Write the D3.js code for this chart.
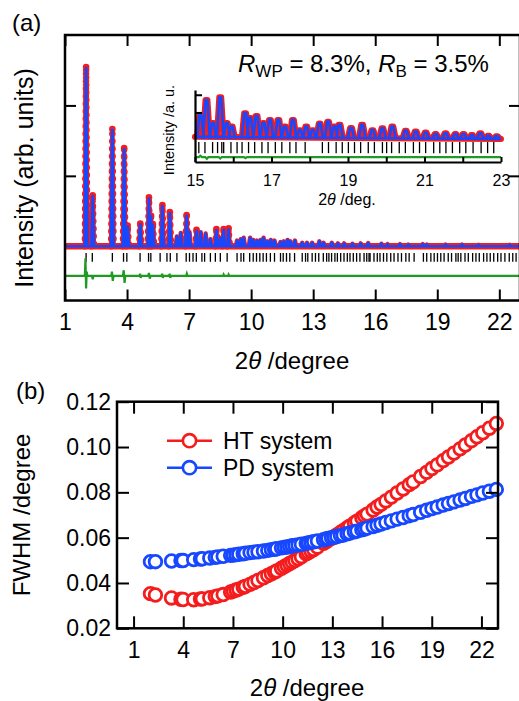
<!DOCTYPE html>
<html>
<head>
<meta charset="utf-8">
<script src="https://cdn.jsdelivr.net/npm/d3@7"></script>
<style>
    body { margin: 0; background: #fff; }
    text { font-family: "Liberation Sans", Arial, sans-serif; fill: #000; }
</style>
</head>
<body>
<svg id="chart"></svg>
<script>
// ---- panel (a): refined pattern, peak positions (2theta) and heights (arb. units)
const mainPeak2theta = [2.02, 2.34, 3.29, 3.86, 4.03, 4.64, 5.06, 5.16, 5.25, 5.71, 6.07, 6.41, 6.60, 6.88, 7.02,
    7.36, 7.56, 7.80, 8.03, 8.32, 8.52, 8.67, 8.91, 9.32, 9.50, 9.64, 9.95, 10.10, 10.28, 10.45, 10.60, 10.78,
    10.95, 11.13, 11.42, 11.58, 11.76, 11.90, 12.12, 12.47, 12.70, 12.95, 13.30, 13.50, 13.90, 14.20, 14.50,
    14.90, 15.30, 15.66, 16.30, 16.60, 17.20, 17.60, 18.30, 18.50, 19.40, 20.20, 21.00, 22.50];
const mainPeakHeight = [2.53, 0.71, 1.65, 1.38, 0.28, 0.31, 0.68, 0.42, 0.30, 0.57, 0.47, 0.14, 0.19, 0.43, 0.20,
    0.22, 0.20, 0.18, 0.10, 0.23, 0.12, 0.23, 0.24, 0.08, 0.10, 0.12, 0.12, 0.09, 0.08, 0.09, 0.12, 0.07,
    0.09, 0.08, 0.06, 0.07, 0.09, 0.07, 0.08, 0.05, 0.05, 0.05, 0.07, 0.05, 0.05, 0.04, 0.04,
    0.035, 0.04, 0.045, 0.035, 0.03, 0.03, 0.025, 0.03, 0.025, 0.025, 0.025, 0.02, 0.02];

// Bragg reflection positions
const bragg2theta = [2.02, 2.32, 3.29, 3.83, 3.99, 4.63, 5.04, 5.15, 5.60, 5.93, 6.09, 6.41, 6.86, 7.02, 7.19,
    7.35, 7.62, 7.75, 8.03, 8.27, 8.51, 8.84, 9.32, 9.51, 9.64, 9.93, 10.10, 10.26, 10.42, 10.58, 10.74, 10.93,
    11.13, 11.42, 11.55, 11.71, 11.87, 12.10, 12.47, 12.63, 12.74, 12.95, 13.11, 13.27, 13.49, 13.65, 13.76,
    13.89, 14.05, 14.17, 14.33, 14.49, 14.65, 14.78, 14.94, 15.10, 15.26, 15.46, 15.59, 15.70, 15.75, 15.94,
    16.10, 16.23, 16.40, 16.56, 16.75, 16.91, 17.10, 17.27, 17.48, 17.64, 17.88, 18.33, 18.49, 18.69, 18.85,
    19.01, 19.17, 19.33, 19.53, 19.69, 19.90, 20.01, 20.14, 20.34, 20.50, 20.71, 20.87, 21.03, 21.24, 21.40,
    21.56, 21.73, 21.92, 22.08, 22.27, 22.48, 22.65, 22.81];

// difference curve (obs - calc), offset below the pattern
const diff2theta = [1.0, 1.96, 1.99, 2.02, 2.05, 2.08, 2.30, 2.34, 2.38, 3.24, 3.27, 3.31, 3.35, 3.80, 3.84,
    3.88, 3.92, 4.60, 4.63, 4.66, 4.69, 5.02, 5.06, 5.10, 5.14, 5.67, 5.70, 5.73, 5.76, 6.03, 6.06, 6.09, 6.12,
    6.86, 6.89, 6.92, 8.64, 8.67, 8.70, 8.88, 8.91, 8.94, 23.0];
const diffValue = [-0.42, -0.42, -0.17, -0.60, -0.36, -0.42, -0.42, -0.47, -0.42, -0.42, -0.36, -0.49, -0.42,
    -0.42, -0.34, -0.52, -0.42, -0.42, -0.39, -0.45, -0.42, -0.42, -0.38, -0.46, -0.42, -0.42, -0.39, -0.45,
    -0.42, -0.42, -0.39, -0.45, -0.42, -0.42, -0.39, -0.42, -0.42, -0.40, -0.42, -0.42, -0.40, -0.42, -0.42];

const mainXTicks = [1, 4, 7, 10, 13, 16, 19, 22];
const mainYTicks = [1, 2];

// ---- inset (15-23 deg)
const inset2theta = [15.14, 15.30, 15.47, 15.66, 15.83, 15.96, 16.31, 16.44, 16.61, 16.79, 16.96, 17.18, 17.35,
    17.56, 17.74, 17.91, 18.08, 18.26, 18.48, 18.65, 18.78, 19.08, 19.37, 19.64, 19.90, 20.16, 20.51, 20.77,
    21.03, 21.29, 21.55, 21.81, 22.02, 22.24, 22.46, 22.67, 22.89];
const insetHeight = [0.68, 1.10, 0.45, 1.18, 0.45, 0.35, 0.73, 0.59, 0.65, 0.45, 0.54, 0.54, 0.35, 0.54, 0.25,
    0.35, 0.25, 0.44, 0.49, 0.35, 0.40, 0.31, 0.40, 0.25, 0.30, 0.35, 0.23, 0.21, 0.18, 0.14, 0.16, 0.14,
    0.14, 0.11, 0.16, 0.09, 0.08];
const insetBg2theta = [15, 19, 23];
const insetBgValue = [0.06, 0.03, 0.0];
const insetDiff2theta = [15.0, 15.10, 15.14, 15.18, 15.27, 15.31, 15.35, 15.62, 15.66, 15.70, 16.28, 16.32, 16.36, 23.0];
const insetDiffValue = [-0.51, -0.51, -0.47, -0.51, -0.51, -0.56, -0.51, -0.51, -0.55, -0.51, -0.51, -0.54, -0.51, -0.51];
const insetXTicks = [15, 16, 17, 18, 19, 20, 21, 22, 23];
const insetYTicks = [0.75, 1.25];

// ---- panel (b): FWHM vs 2theta
const fwhm2theta = [2.02, 2.32, 3.29, 3.86, 3.99, 4.63, 5.04, 5.15, 5.60, 5.93, 6.09, 6.41, 6.86, 7.02, 7.19,
    7.35, 7.62, 7.75, 8.03, 8.27, 8.51, 8.84, 9.10, 9.32, 9.51, 9.64, 9.93, 10.10, 10.26, 10.42, 10.58, 10.74,
    10.93, 11.13, 11.42, 11.55, 11.71, 11.87, 12.10, 12.47, 12.63, 12.74, 12.95, 13.11, 13.27, 13.49, 13.65,
    13.89, 14.05, 14.33, 14.49, 14.78, 14.94, 15.10, 15.46, 15.70, 15.94, 16.23, 16.56, 16.91, 17.27, 17.64,
    17.88, 18.33, 18.69, 19.01, 19.33, 19.69, 20.01, 20.34, 20.71, 21.03, 21.40, 21.73, 22.08, 22.48, 22.90];
const fwhmHT = [0.0353, 0.0347, 0.0334, 0.0328, 0.0327, 0.0326, 0.0329, 0.0330, 0.0335, 0.0340, 0.0343, 0.0349,
    0.0360, 0.0364, 0.0369, 0.0373, 0.0381, 0.0385, 0.0394, 0.0402, 0.0411, 0.0423, 0.0433, 0.0441, 0.0448,
    0.0453, 0.0465, 0.0472, 0.0479, 0.0486, 0.0492, 0.0499, 0.0507, 0.0516, 0.0529, 0.0534, 0.0541, 0.0548,
    0.0558, 0.0575, 0.0583, 0.0588, 0.0597, 0.0604, 0.0612, 0.0623, 0.0631, 0.0643, 0.0651, 0.0665, 0.0673,
    0.0688, 0.0696, 0.0704, 0.0722, 0.0735, 0.0747, 0.0762, 0.0779, 0.0797, 0.0815, 0.0834, 0.0846, 0.0870,
    0.0888, 0.0905, 0.0921, 0.0940, 0.0956, 0.0973, 0.0992, 0.1009, 0.1028, 0.1045, 0.1063, 0.1083, 0.1104];
const fwhmPD = [0.0494, 0.0494, 0.0497, 0.0499, 0.0499, 0.0503, 0.0506, 0.0507, 0.0510, 0.0513, 0.0515, 0.0518,
    0.0522, 0.0523, 0.0525, 0.0527, 0.0529, 0.0531, 0.0534, 0.0536, 0.0538, 0.0541, 0.0544, 0.0547, 0.0549,
    0.0551, 0.0555, 0.0557, 0.0559, 0.0561, 0.0564, 0.0566, 0.0568, 0.0571, 0.0575, 0.0577, 0.0579, 0.0582,
    0.0585, 0.0591, 0.0594, 0.0596, 0.0600, 0.0602, 0.0605, 0.0609, 0.0612, 0.0617, 0.0620, 0.0626, 0.0629,
    0.0635, 0.0638, 0.0642, 0.0649, 0.0655, 0.0660, 0.0667, 0.0674, 0.0682, 0.0689, 0.0697, 0.0702, 0.0712,
    0.0721, 0.0728, 0.0735, 0.0744, 0.0751, 0.0758, 0.0766, 0.0773, 0.0782, 0.0789, 0.0797, 0.0805, 0.0813];
const seriesNames = ["HT system", "PD system"];
const bXTicks = [1, 4, 7, 10, 13, 16, 19, 22];
const bYTicks = [0.02, 0.04, 0.06, 0.08, 0.10, 0.12];

const RED = '#f41c1c', BLUE = '#1747ff', GREEN = '#1f9a22';

const svg = d3.select('#chart').attr('width', 519).attr('height', 701);

// helper: write "2θ /degree" style titles
function thetaTitle(sel, unit) {
    sel.append('tspan').text('2');
    sel.append('tspan').attr('font-style', 'italic').text('θ');
    sel.append('tspan').text(' /' + unit);
}

// ================= panel (a) =================
const A = { left: 65, right: 520, top: 35, bottom: 300.5 };
const xA = d3.scaleLinear().domain([1, 23]).range([A.left, A.right]);
const yA = d3.scaleLinear().domain([-0.77, 3.0]).range([A.bottom, A.top]);
const lineA = d3.line().x(d => xA(d[0])).y(d => yA(d[1]));

svg.append('clipPath').attr('id', 'clipA')
    .append('rect').attr('x', A.left).attr('y', A.top)
    .attr('width', A.right - A.left).attr('height', A.bottom - A.top);

const gA = svg.append('g');
const plotA = gA.append('g').attr('clip-path', 'url(#clipA)');

// Bragg ticks
plotA.append('g').selectAll('line').data(bragg2theta).join('line')
    .attr('x1', d => xA(d)).attr('x2', d => xA(d))
    .attr('y1', yA(-0.095)).attr('y2', yA(-0.22))
    .attr('stroke', '#000').attr('stroke-width', 1.3);

// difference
plotA.append('path').datum(d3.zip(diff2theta, diffValue))
    .attr('fill', 'none').attr('stroke', GREEN).attr('stroke-width', 2.2)
    .attr('d', lineA);

const mainPeaks = d3.zip(mainPeak2theta, mainPeakHeight);
const spike = (p, h) => [[p - 0.06, 0], [p, h], [p + 0.06, 0]];

// observed (red)
plotA.append('path').datum([[1, 0], [23, 0]])
    .attr('fill', 'none').attr('stroke', RED).attr('stroke-width', 6.5)
    .attr('d', lineA);
plotA.append('g').selectAll('path.obs').data(mainPeaks).join('path')
    .attr('fill', 'none').attr('stroke', RED).attr('stroke-width', 4.5).attr('stroke-linejoin', 'round')
    .attr('d', d => lineA(spike(d[0], d[1])));
const bigPeaks = mainPeaks.filter(d => d[1] > 0.2);
plotA.append('g').selectAll('path.dots').data(bigPeaks).join('path')
    .attr('fill', 'none').attr('stroke', RED).attr('stroke-width', 6.5)
    .attr('stroke-linecap', 'round').attr('stroke-dasharray', '0,7.5')
    .attr('d', d => lineA(spike(d[0], d[1])));
plotA.append('g').selectAll('circle').data(bigPeaks).join('circle')
    .attr('cx', d => xA(d[0])).attr('cy', d => yA(d[1]) - 1).attr('r', 3.3).attr('fill', RED);

// calculated (blue)
plotA.append('path').datum([[1, 0], [23, 0]])
    .attr('fill', 'none').attr('stroke', BLUE).attr('stroke-width', 2.6)
    .attr('d', lineA);
plotA.append('g').selectAll('path').data(mainPeaks).join('path')
    .attr('fill', 'none').attr('stroke', BLUE).attr('stroke-width', 2.8).attr('stroke-linejoin', 'round')
    .attr('d', d => lineA(spike(d[0], d[1])));

// frame and ticks
gA.append('rect').attr('x', A.left).attr('y', A.top)
    .attr('width', A.right - A.left).attr('height', A.bottom - A.top)
    .attr('fill', 'none').attr('stroke', '#000').attr('stroke-width', 2.5);

const axA = gA.append('g').attr('transform', `translate(0,${A.bottom})`)
    .call(d3.axisBottom(xA).tickValues(mainXTicks).tickSizeInner(-11).tickSizeOuter(0).tickPadding(13.5));
gA.append('g').attr('transform', `translate(0,${A.top})`)
    .call(d3.axisTop(xA).tickValues(mainXTicks).tickSizeInner(-11).tickSizeOuter(0).tickFormat(''));
gA.append('g').attr('transform', `translate(${A.left},0)`)
    .call(d3.axisLeft(yA).tickValues(mainYTicks).tickSizeInner(-11).tickSizeOuter(0).tickFormat(''));
gA.append('g').attr('transform', `translate(${A.right},0)`)
    .call(d3.axisRight(yA).tickValues(mainYTicks).tickSizeInner(-11).tickSizeOuter(0).tickFormat(''));
gA.selectAll('.domain').remove();
gA.selectAll('.tick line').attr('stroke-width', 2);
axA.selectAll('text').attr('font-size', 23).attr('font-family', null);

gA.append('text').attr('x', 12).attr('y', 31).attr('font-size', 24).text('(a)');
gA.append('text').attr('transform', 'translate(33,178) rotate(-90)')
    .attr('text-anchor', 'middle').attr('font-size', 25).text('Intensity (arb. units)');
gA.append('text').attr('x', 292).attr('y', 369).attr('text-anchor', 'middle').attr('font-size', 24)
    .call(thetaTitle, 'degree');

const rText = gA.append('text').attr('x', 238).attr('y', 72).attr('font-size', 24);
rText.append('tspan').attr('font-style', 'italic').text('R');
rText.append('tspan').attr('font-size', 17).attr('dy', 5).text('WP');
rText.append('tspan').attr('dy', -5).text(' = 8.3%, ');
rText.append('tspan').attr('font-style', 'italic').text('R');
rText.append('tspan').attr('font-size', 17).attr('dy', 5).text('B');
rText.append('tspan').attr('dy', -5).text(' = 3.5%');

// ================= inset =================
const I = { left: 195, right: 501, top: 90, bottom: 162 };
const xI = d3.scaleLinear().domain([15, 23]).range([I.left, I.right]);
const yI = d3.scaleLinear().domain([-0.65, 1.384]).range([I.bottom, I.top]);
const lineI = d3.line().x(d => xI(d[0])).y(d => yI(d[1]));
const gI = svg.append('g');
const insetPeaks = d3.zip(inset2theta, insetHeight);
const bump = (p, h) => [[p - 0.09, 0], [p - 0.025, h], [p + 0.025, h], [p + 0.09, 0]];

gI.append('g').selectAll('line').data(bragg2theta.filter(d => d >= 15)).join('line')
    .attr('x1', d => xI(d)).attr('x2', d => xI(d))
    .attr('y1', yI(-0.085)).attr('y2', yI(-0.40))
    .attr('stroke', '#000').attr('stroke-width', 1.3);
gI.append('path').datum(d3.zip(insetDiff2theta, insetDiffValue))
    .attr('fill', 'none').attr('stroke', GREEN).attr('stroke-width', 2.2).attr('d', lineI);

const bgI = d3.zip(insetBg2theta, insetBgValue);
gI.append('path').datum(bgI).attr('fill', 'none').attr('stroke', RED)
    .attr('stroke-width', 6).attr('stroke-linecap', 'round').attr('d', lineI);
gI.append('g').selectAll('path').data(insetPeaks).join('path')
    .attr('fill', 'none').attr('stroke', RED).attr('stroke-width', 6).attr('stroke-linejoin', 'round')
    .attr('d', d => lineI(bump(d[0], d[1])));
gI.append('path').datum(bgI).attr('fill', 'none').attr('stroke', BLUE)
    .attr('stroke-width', 2.6).attr('d', lineI);
gI.append('g').selectAll('path').data(insetPeaks).join('path')
    .attr('fill', 'none').attr('stroke', BLUE).attr('stroke-width', 2.6).attr('stroke-linejoin', 'round')
    .attr('d', d => lineI(bump(d[0], d[1])));

const axI = gI.append('g').attr('transform', `translate(0,${I.bottom})`)
    .call(d3.axisBottom(xI).tickValues(insetXTicks).tickSizeInner(-5).tickSizeOuter(0).tickPadding(13)
        .tickFormat(d => d % 2 ? d : ''));
gI.append('g').attr('transform', `translate(${I.left},0)`)
    .call(d3.axisLeft(yI).tickValues(insetYTicks).tickSizeInner(-7).tickSizeOuter(0).tickFormat(''));
gI.selectAll('.domain').attr('stroke-width', 2.2);
gI.selectAll('.tick line').attr('stroke-width', 2);
axI.selectAll('text').attr('font-size', 16).attr('font-family', null);
gI.append('text').attr('x', 347).attr('y', 205).attr('text-anchor', 'middle').attr('font-size', 16)
    .call(thetaTitle, 'deg.');
gI.append('text').attr('transform', 'translate(174,130) rotate(-90)')
    .attr('text-anchor', 'middle').attr('font-size', 14.5).text('Intensity /a. u.');

// ================= panel (b) =================
const B = { left: 117, right: 498, top: 401.7, bottom: 628.3 };
const xB = d3.scaleLinear().domain([0, 23]).range([B.left, B.right]);
const yB = d3.scaleLinear().domain([0.02, 0.12]).range([B.bottom, B.top]);
const gB = svg.append('g');
const colors = [RED, BLUE];

[fwhmHT, fwhmPD].forEach((vals, i) => {
    gB.append('g').selectAll('circle').data(d3.zip(fwhm2theta, vals)).join('circle')
        .attr('cx', d => xB(d[0])).attr('cy', d => yB(d[1])).attr('r', 6.3)
        .attr('fill', '#fff').attr('stroke', colors[i]).attr('stroke-width', 2.8);
});

gB.append('rect').attr('x', B.left).attr('y', B.top)
    .attr('width', B.right - B.left).attr('height', B.bottom - B.top)
    .attr('fill', 'none').attr('stroke', '#000').attr('stroke-width', 2.5);

const axBx = gB.append('g').attr('transform', `translate(0,${B.bottom})`)
    .call(d3.axisBottom(xB).tickValues(bXTicks).tickSizeInner(-12).tickSizeOuter(0).tickPadding(13.4));
gB.append('g').attr('transform', `translate(0,${B.top})`)
    .call(d3.axisTop(xB).tickValues(bXTicks).tickSizeInner(-12).tickSizeOuter(0).tickFormat(''));
const axBy = gB.append('g').attr('transform', `translate(${B.left},0)`)
    .call(d3.axisLeft(yB).tickValues(bYTicks).tickSizeInner(-12).tickSizeOuter(0).tickPadding(6)
        .tickFormat(d3.format('.2f')));
gB.append('g').attr('transform', `translate(${B.right},0)`)
    .call(d3.axisRight(yB).tickValues(bYTicks).tickSizeInner(-12).tickSizeOuter(0).tickFormat(''));
gB.selectAll('.domain').remove();
gB.selectAll('.tick line').attr('stroke-width', 2);
axBx.selectAll('text').attr('font-size', 23).attr('font-family', null);
axBy.selectAll('text').attr('font-size', 23).attr('font-family', null);

// legend
seriesNames.forEach((name, i) => {
    const y = 440.7 + i * 27;
    gB.append('line').attr('x1', 167).attr('x2', 212).attr('y1', y).attr('y2', y)
        .attr('stroke', colors[i]).attr('stroke-width', 2.5);
    gB.append('circle').attr('cx', 189.5).attr('cy', y).attr('r', 6.6)
        .attr('fill', '#fff').attr('stroke', colors[i]).attr('stroke-width', 2.6);
    gB.append('text').attr('x', 223).attr('y', y + 8).attr('font-size', 23).text(name);
});

gB.append('text').attr('x', 16).attr('y', 399).attr('font-size', 24).text('(b)');
gB.append('text').attr('transform', 'translate(30,515) rotate(-90)')
    .attr('text-anchor', 'middle').attr('font-size', 24).text('FWHM /degree');
gB.append('text').attr('x', 307).attr('y', 696).attr('text-anchor', 'middle').attr('font-size', 24)
    .call(thetaTitle, 'degree');
</script>
</body>
</html>
